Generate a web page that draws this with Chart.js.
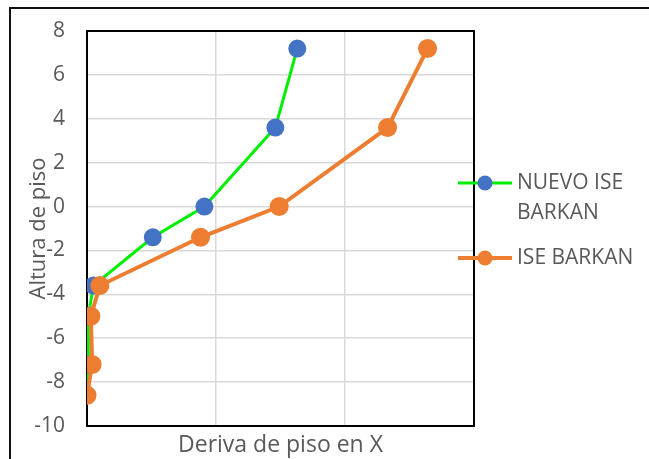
<!DOCTYPE html>
<html>
<head>
<meta charset="utf-8">
<script src="https://cdn.jsdelivr.net/npm/chart.js@4.4.1/dist/chart.umd.min.js"></script>
<style>
  html, body { margin: 0; padding: 0; background: #fff; }
  #wrap { position: relative; width: 649px; height: 459px; overflow: hidden; }
  #frame { position: absolute; left: 9px; top: 7px; width: 700px; height: 500px; border: 2px solid #111; box-sizing: border-box; }
  canvas { position: absolute; left: 0; top: 0; }
</style>
</head>
<body>
<div id="wrap">
  <div id="frame"></div>
  <canvas id="chart" width="649" height="459"></canvas>
</div>
<script>
// floor heights (y) and drift (x) for each series
const alturas = [-8.6, -7.2, -5.0, -3.6, -1.4, 0, 3.6, 7.2];
const derivaNuevo = [0.0, 0.00001, 0.00001, 0.00005, 0.00051, 0.00091, 0.00146, 0.00163];
const derivaIse = [0.0, 0.00004, 0.00003, 0.0001, 0.00088, 0.00149, 0.00233, 0.00264];
const seriesNames = [['NUEVO ISE', 'BARKAN'], ['ISE BARKAN']];

const textColor = '#595959';
const fontFamily = "'Open Sans', 'Liberation Sans', sans-serif";

function toPoints(xs) {
    return xs.map((x, i) => ({ x: x, y: alturas[i] }));
}

// black frame around the plot area (all four sides)
const frameBox = {
    id: 'frameBox',
    beforeDatasetsDraw(chart) {
        const { ctx, chartArea: a } = chart;
        ctx.save();
        ctx.strokeStyle = '#000';
        ctx.lineWidth = 2;
        ctx.strokeRect(a.left, a.top, a.right - a.left, a.bottom - a.top);
        ctx.restore();
    }
};

// legend on the right: line + marker + wrapped text
const sideLegend = {
    id: 'sideLegend',
    afterDraw(chart) {
        const { ctx } = chart;
        const rows = [183, 258];
        ctx.save();
        chart.data.datasets.forEach((ds, i) => {
            const y = rows[i];
            ctx.strokeStyle = ds.borderColor;
            ctx.lineWidth = ds.borderWidth;
            ctx.beginPath();
            ctx.moveTo(458, y);
            ctx.lineTo(512, y);
            ctx.stroke();
            ctx.fillStyle = ds.pointBackgroundColor;
            ctx.beginPath();
            ctx.arc(485, y, 7.5, 0, Math.PI * 2);
            ctx.fill();
            ctx.fillStyle = textColor;
            ctx.font = '21px ' + fontFamily;
            ctx.textBaseline = 'middle';
            seriesNames[i].forEach((line, j) => {
                ctx.fillText(line, 517, y + j * 30);
            });
        });
        ctx.restore();
    }
};

const ctx = document.getElementById('chart').getContext('2d');
new Chart(ctx, {
    type: 'scatter',
    data: {
        datasets: [
            {
                label: seriesNames[0].join(' '),
                data: toPoints(derivaNuevo),
                showLine: true,
                borderColor: '#00ee00',
                borderWidth: 3,
                pointBackgroundColor: '#4472c4',
                pointBorderColor: '#4472c4',
                pointRadius: 7.5,
                order: 1
            },
            {
                label: seriesNames[1].join(' '),
                data: toPoints(derivaIse),
                showLine: true,
                borderColor: '#ed7d31',
                borderWidth: 4,
                pointBackgroundColor: '#ed7d31',
                pointBorderColor: '#ed7d31',
                pointRadius: 7.5,
                order: 0
            }
        ]
    },
    options: {
        responsive: false,
        animation: false,
        layout: { padding: { left: 0, right: 175, top: 31, bottom: 0 } },
        plugins: { legend: { display: false }, tooltip: { enabled: false } },
        scales: {
            x: {
                type: 'linear', min: 0, max: 0.003,
                ticks: { display: false, stepSize: 0.001 },
                grid: { color: '#d9d9d9', lineWidth: 1.5, drawTicks: false },
                border: { display: false },
                title: { display: true, text: 'Deriva de piso en X', color: textColor,
                    font: { family: fontFamily, size: 23 }, padding: { top: 0, bottom: 0 } },
                afterFit(scale) {
                    scale.height = 33;
                    scale.paddingLeft = 0;
                    scale.paddingRight = 0;
                }
            },
            y: {
                min: -10, max: 8,
                ticks: { stepSize: 2, color: textColor, padding: 22, font: { family: fontFamily, size: 21 } },
                grid: { color: '#d9d9d9', lineWidth: 1.5, drawTicks: false },
                border: { display: false },
                title: { display: true, text: 'Altura de piso', color: textColor,
                    font: { family: fontFamily, size: 22 }, padding: { top: 26, bottom: 0 } },
                afterFit(scale) {
                    scale.width = 87;
                    scale.paddingTop = 0;
                    scale.paddingBottom = 0;
                }
            }
        }
    },
    plugins: [frameBox, sideLegend]
});
</script>
</body>
</html>
